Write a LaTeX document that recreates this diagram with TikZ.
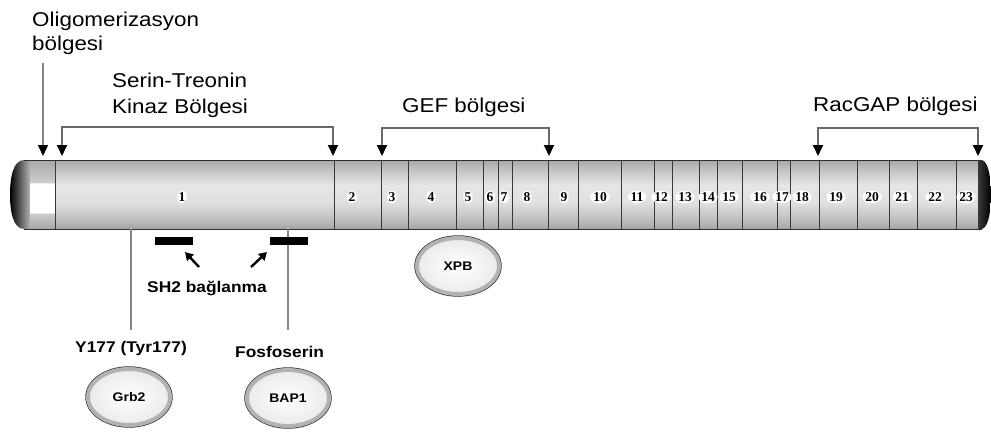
\documentclass[tikz,border=0pt]{standalone}
\usepackage{fontspec}
\setmainfont{Liberation Sans}[FakeStretch=1.12]
\newfontfamily\numfont{Liberation Serif}
\usetikzlibrary{arrows.meta,shapes.geometric}

\pgfdeclareverticalshading{barshade}{100bp}{color(0bp)=(gray!72); color(25bp)=(gray!72); color(32bp)=(gray!50); color(44bp)=(gray!24); color(57bp)=(gray!20); color(66bp)=(gray!42); color(75bp)=(gray!68); color(100bp)=(gray!68)}
\pgfdeclareverticalshading{whiteseg}{100bp}{color(0bp)=(gray!70); color(25bp)=(gray!70); color(36bp)=(gray!40); color(37bp)=(white); color(58bp)=(white); color(59bp)=(gray!40); color(75bp)=(gray!68); color(100bp)=(gray!68)}
\definecolor{brk}{RGB}{105,105,105}
\definecolor{vln}{RGB}{135,135,135}

\tikzset{
  toplab/.style={inner sep=0pt, anchor=base west, font=\fontsize{20}{24}\selectfont, text=black},
  botlab/.style={inner sep=0pt, anchor=base west, font=\bfseries\fontsize{15.5}{18}\selectfont, text=black},
  numlab/.style={ellipse, fill=white, inner sep=0pt, font=\numfont\bfseries\fontsize{13.5}{14}\selectfont},
  bracket/.style={draw=brk, line width=1.8pt, {Triangle[width=10pt,length=11pt,color=black]}-{Triangle[width=10pt,length=11pt,color=black]}},
  onearrow/.style={draw=vln, line width=1.6pt, -{Triangle[width=10pt,length=11pt,color=black]}},
  vline/.style={draw=vln, line width=1.5pt},
  sbar/.style={fill=black, minimum width=38pt, minimum height=8pt, inner sep=0pt},
  sharr/.style={draw=black, line width=2.4pt, -{Triangle[width=9pt,length=8pt]}},
  prot/.style={ellipse, preaction={draw=gray!40!black, line width=5.4pt}, draw=gray!60, line width=4pt,
     inner color=white, outer color=gray!16, minimum width=82pt, minimum height=56pt,
     font=\bfseries\fontsize{12.5}{14}\selectfont},
  segline/.style={draw=gray!45!black, line width=0.8pt}
}

\begin{document}
\begin{tikzpicture}[x=1pt,y=-1pt]
\useasboundingbox[fill=white] (0,0) rectangle (991,432);

% ---- protein bar ----
\shade[shading=barshade] (30,160) rectangle (978,229);
\shade[shading=whiteseg] (30,160) rectangle (55,229);
\shade[left color=black, right color=gray!60] (30,160) -- (24,160) .. controls (13,160) and (10,178) .. (10,194.5) .. controls (10,211) and (13,229) .. (24,229) -- (30,229) -- cycle;
\shade[left color=gray!45!black, right color=black] (978,160) -- (982,160) .. controls (989,162) and (991,180) .. (991,194.5) .. controls (991,209) and (989,227) .. (982,229) -- (978,229) -- cycle;
\draw[draw=gray!35!black, line width=1pt] (24,160) -- (982,160);
\draw[draw=gray!35!black, line width=1pt] (24,229) -- (982,229);
\foreach \b in {55,334,381,408,456,483,498,512,548,578,621,654,672,699,717,742,777,790,819,857,889,917,956}
  \draw[segline] (\b,160) -- (\b,229);

% segment numbers
\foreach \n/\x in {1/182,2/352,3/392,4/431,5/468,6/490,7/504,8/527,9/564,10/600,11/637,12/661,13/685,14/708,15/729,16/760,17/782,18/802,19/836,20/872,21/902,22/935,23/966}
  \node[numlab] (s\n) at (\x,197) {\n};

% ---- top labels ----
\node[toplab] (ol1) at (32,26) {Oligomerizasyon};
\node[toplab] (ol2) at (32,50) {bölgesi};
\node[toplab] (st1) at (112,87) {Serin-Treonin};
\node[toplab] (st2) at (112,113) {Kinaz Bölgesi};
\node[toplab] (gef) at (402,112) {GEF bölgesi};
\node[toplab] (rac) at (813,111) {RacGAP bölgesi};

% ---- arrows / brackets ----
\coordinate (olA) at (43,63);
\coordinate (olB) at (43,156);
\draw[onearrow] (olA) -- (olB);

\coordinate (kin1) at (62,156);
\coordinate (kin2) at (333,156);
\draw[bracket] (kin1) -- ++(0,-29) -| (kin2);

\coordinate (gef1) at (382,156);
\coordinate (gef2) at (549,156);
\draw[bracket] (gef1) -- ++(0,-28) -| (gef2);

\coordinate (rac1) at (818,156);
\coordinate (rac2) at (978,156);
\draw[bracket] (rac1) -- ++(0,-28) -| (rac2);

% ---- below the bar ----
\coordinate (g0) at (131,229);
\coordinate (g1) at (131,330);
\draw[vline] (g0) -- (g1);
\coordinate (b0) at (288,229);
\coordinate (b1) at (288,330);
\draw[vline] (b0) -- (b1);

\node[sbar] (sh2a) at (174,241) {};
\node[sbar] (sh2b) at (288.5,241) {};

\node[botlab] (sh2) at (147,292) {SH2 bağlanma};
\coordinate (aa1) at (199,267);
\coordinate (aa2) at (185,252);
\draw[sharr] (aa1) -- (aa2);
\coordinate (ab1) at (251,267);
\coordinate (ab2) at (267,252);
\draw[sharr] (ab1) -- (ab2);

\node[botlab] (y177) at (75,352) {Y177 (Tyr177)};
\node[botlab] (fos) at (235,357) {Fosfoserin};

\node[prot] (grb2) at (129,397) {Grb2};
\node[prot] (bap1) at (288,398) {BAP1};
\node[prot] (xpb) at (458,266) {XPB};
\end{tikzpicture}
\end{document}
